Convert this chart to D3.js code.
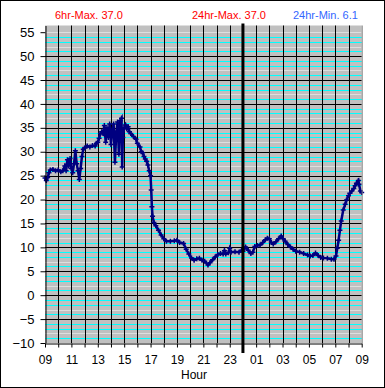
<!DOCTYPE html>
<html>
<head>
<meta charset="utf-8">
<script src="https://cdn.jsdelivr.net/npm/d3@7"></script>
<style>
    html, body { margin: 0; padding: 0; background: #fff; }
    svg { display: block; font-family: "Liberation Sans", Arial, sans-serif; }
</style>
</head>
<body>
<div id="mainDiv"></div>
<script>
// hours after 09:00 and temperature
var hours = [
    0.0, 0.1, 0.2, 0.3, 0.4, 0.6, 0.8, 1.0, 1.2, 1.35, 1.5, 1.6, 1.7, 1.8, 1.9, 2.0,
    2.1, 2.2, 2.3, 2.4, 2.5, 2.6, 2.7, 2.8, 2.9, 3.0, 3.2, 3.4, 3.6, 3.8, 3.9, 4.0,
    4.1, 4.2, 4.3, 4.4, 4.5, 4.6, 4.7, 4.8, 4.9, 5.0, 5.1, 5.2, 5.3, 5.4, 5.5, 5.6,
    5.7, 5.8, 5.85, 5.9, 6.0, 6.1, 6.2, 6.3, 6.4, 6.5, 6.7, 6.9, 7.0, 7.2, 7.3, 7.4,
    7.5, 7.6, 7.7, 7.8, 7.9, 8.0, 8.05, 8.1, 8.15, 8.25, 8.4, 8.6, 8.8, 9.0, 9.2, 9.5,
    9.8, 10.0, 10.2, 10.5, 10.7, 10.9, 11.1, 11.3, 11.5, 11.7, 11.9, 12.1, 12.35, 12.5, 12.7, 12.9,
    13.1, 13.3, 13.5, 13.6, 13.7, 13.9, 14.0, 14.1, 14.4, 14.7, 14.9, 15.0, 15.2, 15.4, 15.6, 15.75,
    15.9, 16.1, 16.3, 16.5, 16.7, 16.85, 17.0, 17.15, 17.3, 17.5, 17.7, 17.9, 18.05, 18.2, 18.4, 18.6,
    18.8, 19.0, 19.3, 19.6, 19.9, 20.1, 20.3, 20.5, 20.7, 20.9, 21.1, 21.4, 21.7, 21.9, 22.05, 22.15,
    22.25, 22.35, 22.45, 22.6, 22.75, 22.85, 23.0, 23.1, 23.25, 23.4, 23.5, 23.6, 23.75, 23.8, 23.9, 24.0
];
var temps = [
    24.5, 24.0, 24.6, 25.6, 26.2, 26.3, 26.0, 26.2, 25.8, 26.0, 27.0, 26.0, 28.3, 27.0, 28.6, 26.5,
    25.6, 27.5, 30.2, 27.5, 26.0, 24.2, 26.5, 29.0, 30.5, 30.8, 31.2, 31.0, 31.3, 31.2, 31.8, 32.0,
    32.8, 33.8, 34.2, 33.8, 35.5, 32.0, 35.0, 33.0, 35.8, 31.5, 34.5, 35.8, 27.8, 34.0, 36.2, 29.5,
    36.5, 37.0, 26.8, 33.0, 35.0, 35.6, 34.8, 35.2, 34.2, 33.8, 33.2, 32.6, 31.8, 31.0, 30.0, 29.8,
    29.0, 28.5, 28.0, 27.2, 26.0, 25.0, 22.0, 18.5, 16.5, 15.2, 14.5, 13.6, 12.6, 11.8, 11.3, 11.3,
    11.4, 11.5, 11.0, 10.8, 9.6, 8.6, 7.8, 7.3, 7.6, 7.7, 7.3, 7.1, 6.3, 6.8, 7.4, 8.0,
    8.5, 8.7, 8.6, 9.3, 8.6, 8.9, 9.8, 9.0, 9.1, 9.0, 9.4, 9.2, 10.1, 9.4, 8.7, 9.0,
    10.2, 10.4, 10.5, 11.0, 11.6, 11.9, 11.8, 11.0, 10.7, 11.2, 11.8, 12.4, 11.8, 11.3, 10.6, 10.1,
    9.6, 9.2, 9.0, 8.7, 8.4, 8.2, 8.3, 8.8, 8.3, 7.9, 7.8, 7.7, 7.5, 7.5, 8.2, 9.8,
    11.5, 13.6, 15.5, 17.8, 19.0, 19.9, 20.8, 21.3, 21.8, 22.3, 22.9, 23.4, 24.0, 23.2, 21.8, 21.5
];
var hourLabels = [ '09', '11', '13', '15', '17', '19', '21', '23', '01', '03', '05', '07', '09' ];
var yTicks = [ -10, -5, 0, 5, 10, 15, 20, 25, 30, 35, 40, 45, 50, 55 ];
var headerTexts = [ '6hr-Max. 37.0', '24hr-Max. 37.0', '24hr-Min. 6.1' ];

var Chart = Chart || {};

Chart.main = function () {

    var _width = 385, _height = 388,
        _left = 45, _right = 361.7, _top = 25.5, _bottom = 343,
        _font = '"Liberation Sans", Arial, sans-serif',
        _id = 'TempChart',
        _svg, _plot, _x, _y, _line, _data;

    _svg = d3.select( '#mainDiv' )
        .append( 'svg' )
        .attr( 'id', _id + '_SVG' )
        .attr( 'width', _width )
        .attr( 'height', _height );

    // white chart area with black frame
    _svg.append( 'rect' )
        .attr( 'x', 0.5 )
        .attr( 'y', 0.5 )
        .attr( 'width', _width - 1 )
        .attr( 'height', _height - 1 )
        .attr( 'fill', '#fff' )
        .attr( 'stroke', '#000' );

    _x = d3.scaleLinear().domain( [ 0, 24 ] ).range( [ _left, _right ] );
    _y = d3.scaleLinear().domain( [ -10, 56.4 ] ).range( [ _bottom, _top ] );

    _plot = _svg.append( 'g' ).attr( 'id', _id + '_Plot' );

    _plot.append( 'rect' )
        .attr( 'x', _left )
        .attr( 'y', _top )
        .attr( 'width', _right - _left )
        .attr( 'height', _bottom - _top )
        .attr( 'fill', '#c0c0c0' );

    // minor horizontal lines: cyan on the units, one lighter line per band
    var minor = d3.range( -10, 56 ).filter( function ( v ) { return v % 5 !== 0; } );
    _plot.selectAll( 'line.minor' )
        .data( minor )
        .enter()
        .append( 'line' )
        .attr( 'class', 'minor' )
        .attr( 'x1', _left )
        .attr( 'x2', _right )
        .attr( 'y1', function ( d ) { return Math.round( _y( d ) ) + 0.5; } )
        .attr( 'y2', function ( d ) { return Math.round( _y( d ) ) + 0.5; } )
        .attr( 'stroke', function ( d ) { return ( ( d % 5 ) + 5 ) % 5 === 2 ? '#dedede' : '#00ffff'; } )
        .attr( 'stroke-width', 1 );

    _plot.append( 'line' )
        .attr( 'x1', _left )
        .attr( 'x2', _right )
        .attr( 'y1', Math.round( _y( 55 ) ) + 0.5 )
        .attr( 'y2', Math.round( _y( 55 ) ) + 0.5 )
        .attr( 'stroke', '#dedede' );

    // major horizontal grid
    _plot.selectAll( 'line.hmajor' )
        .data( yTicks.filter( function ( d ) { return d > -10 && d < 55; } ) )
        .enter()
        .append( 'line' )
        .attr( 'class', 'hmajor' )
        .attr( 'x1', _left )
        .attr( 'x2', _right )
        .attr( 'y1', function ( d ) { return Math.round( _y( d ) ) + 0.5; } )
        .attr( 'y2', function ( d ) { return Math.round( _y( d ) ) + 0.5; } )
        .attr( 'stroke', '#000' );

    // vertical hour grid
    _plot.selectAll( 'line.vgrid' )
        .data( d3.range( 1, 24 ) )
        .enter()
        .append( 'line' )
        .attr( 'class', 'vgrid' )
        .attr( 'x1', function ( d ) { return Math.round( _x( d ) ) + 0.5; } )
        .attr( 'x2', function ( d ) { return Math.round( _x( d ) ) + 0.5; } )
        .attr( 'y1', _top )
        .attr( 'y2', _bottom )
        .attr( 'stroke', '#000' )
        .attr( 'stroke-width', function ( d ) { return d === 15 ? 0 : 1; } );

    // y axis
    var yAxis = _svg.append( 'g' )
        .attr( 'transform', 'translate(' + ( _left + 0.5 ) + ',0)' )
        .call( d3.axisLeft( _y ).tickValues( yTicks ).tickSize( 5 ).tickSizeOuter( 0 ).tickPadding( 6 ) );
    yAxis.select( '.domain' ).attr( 'stroke', '#000' );
    yAxis.selectAll( 'text' ).attr( 'font-size', '13px' ).attr( 'fill', '#000' )
        .attr( 'font-family', _font );

    // x axis
    var xAxis = _svg.append( 'g' )
        .attr( 'transform', 'translate(0,' + ( _bottom + 0.5 ) + ')' )
        .call( d3.axisBottom( _x ).tickValues( d3.range( 0, 25 ) ).tickSize( 4 ).tickSizeOuter( 0 ).tickPadding( 8 )
            .tickFormat( function ( d ) { return d % 2 === 0 ? hourLabels[ d / 2 ] : ''; } ) );
    xAxis.select( '.domain' ).attr( 'stroke', '#000' );
    xAxis.selectAll( 'text' ).attr( 'font-size', '12px' ).attr( 'fill', '#000' )
        .attr( 'font-family', _font );

    _svg.append( 'line' )
        .attr( 'x1', _right + 0.5 )
        .attr( 'x2', _right + 0.5 )
        .attr( 'y1', _top )
        .attr( 'y2', _bottom )
        .attr( 'stroke', '#808080' );

    // midnight marker
    _svg.append( 'line' )
        .attr( 'x1', _x( 15 ) )
        .attr( 'x2', _x( 15 ) )
        .attr( 'y1', _top - 2 )
        .attr( 'y2', _bottom + 10 )
        .attr( 'stroke', '#000' )
        .attr( 'stroke-width', 3 );

    _svg.append( 'text' )
        .attr( 'x', 194 )
        .attr( 'y', 379 )
        .attr( 'text-anchor', 'middle' )
        .attr( 'font-size', '12px' )
        .text( 'Hour' );

    // header texts
    _svg.selectAll( 'text.hdr' )
        .data( headerTexts )
        .enter()
        .append( 'text' )
        .attr( 'class', 'hdr' )
        .attr( 'x', function ( d, i ) { return [ 55, 192, 293 ][ i ]; } )
        .attr( 'y', 19 )
        .attr( 'font-size', '11px' )
        .attr( 'fill', function ( d, i ) { return i < 2 ? '#ff0000' : '#3366ff'; } )
        .text( function ( d ) { return d; } );

    // temperature series
    _data = hours.map( function ( h, i ) { return { h: h, t: temps[ i ] }; } );

    _line = d3.line()
        .x( function ( d ) { return _x( d.h ); } )
        .y( function ( d ) { return _y( d.t ); } );

    _plot.append( 'path' )
        .datum( _data )
        .attr( 'd', _line )
        .attr( 'fill', 'none' )
        .attr( 'stroke', '#000080' )
        .attr( 'stroke-width', 2.5 );

    _plot.selectAll( 'path.mark' )
        .data( _data )
        .enter()
        .append( 'path' )
        .attr( 'class', 'mark' )
        .attr( 'transform', function ( d ) { return 'translate(' + _x( d.h ) + ',' + _y( d.t ) + ')'; } )
        .attr( 'd', 'M-2.5,0H2.5M0,-2.5V2.5' )
        .attr( 'stroke', '#000080' )
        .attr( 'stroke-width', 1.5 );
}();
</script>
</body>
</html>
